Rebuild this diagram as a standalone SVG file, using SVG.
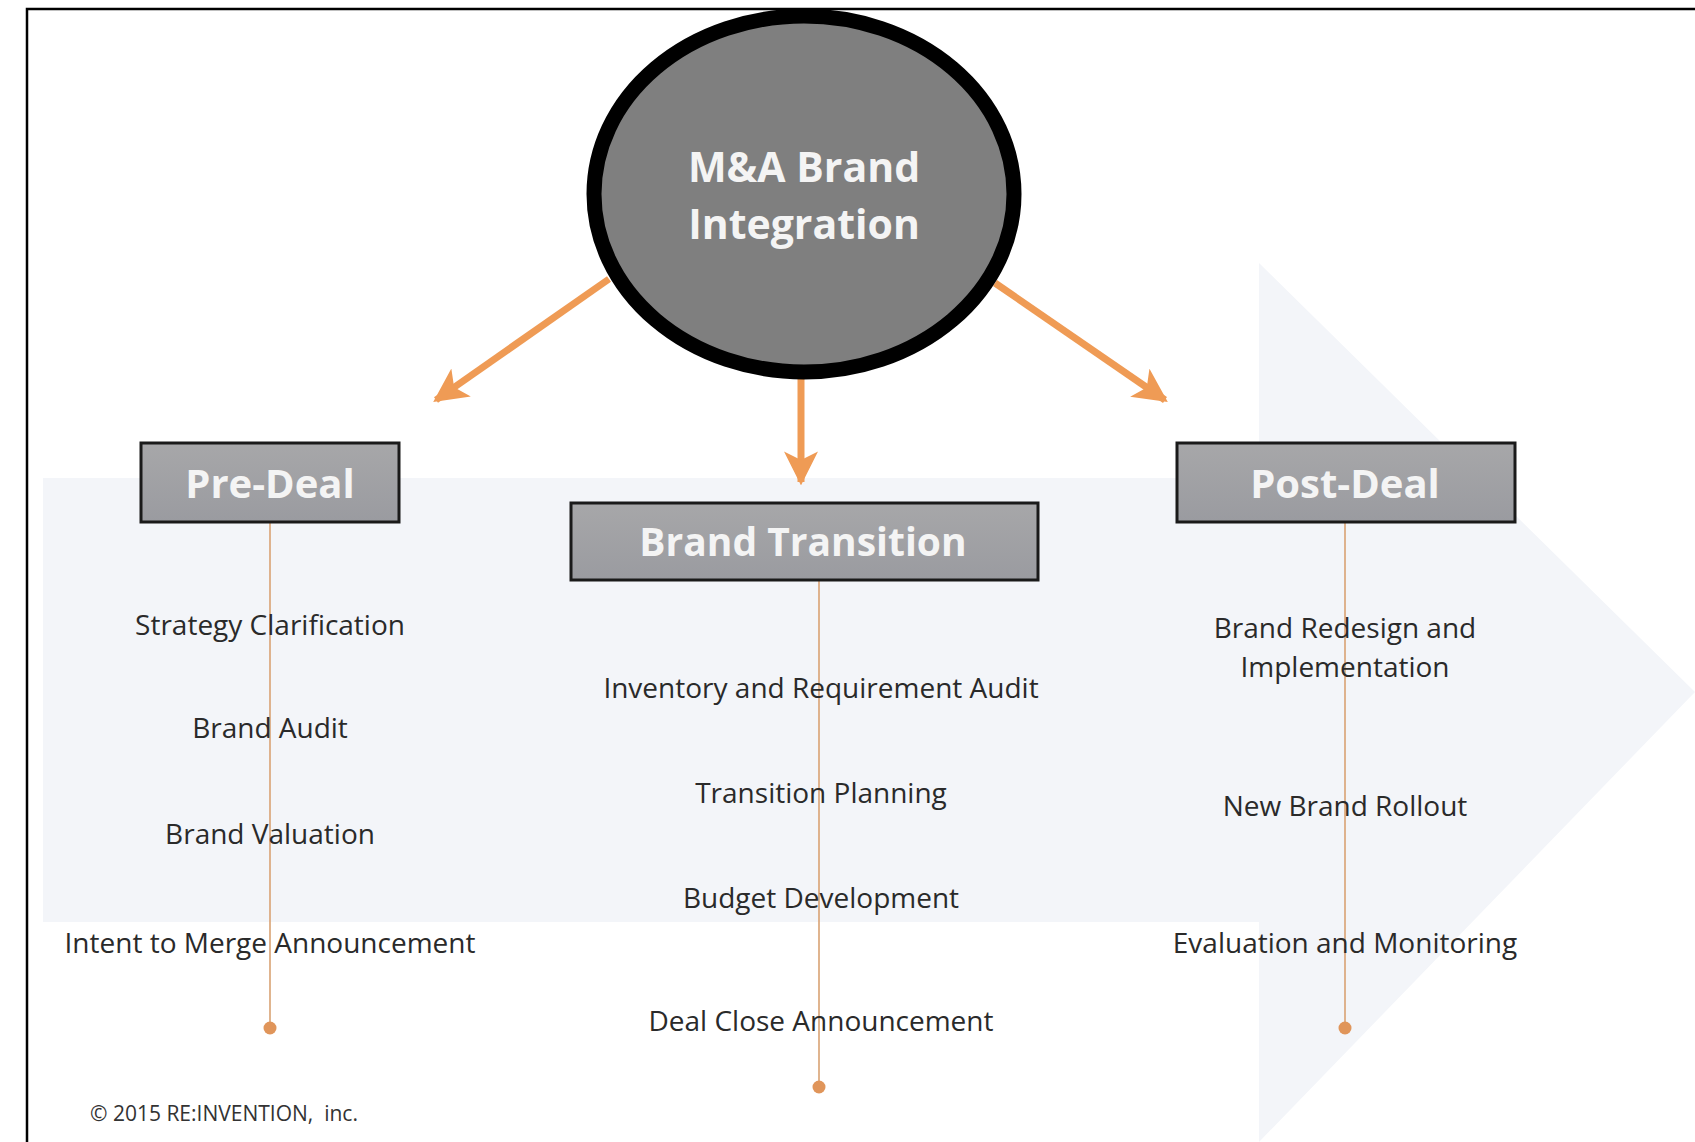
<svg xmlns="http://www.w3.org/2000/svg" width="1695" height="1142" viewBox="0 0 1695 1142">
<style>
.box{fill:url(#boxg);stroke:#1a1a1a;stroke-width:3}
.hdr{font-family:"Open Sans","Liberation Sans",sans-serif;font-weight:bold;fill:#f4f4f4;text-anchor:middle}
.item{font-family:"Open Sans","Liberation Sans",sans-serif;font-size:28px;fill:#2a2a2a;text-anchor:middle}
.vline{stroke:#d9a273;stroke-width:1.6;fill:none}
.dot{fill:#e0955a}
.conn{stroke:#ef9b55;stroke-width:7;fill:none}
.copy{font-family:"Open Sans","Liberation Sans",sans-serif;font-size:21px;fill:#333;white-space:pre}
</style>
<defs>
<linearGradient id="boxg" x1="0" y1="0" x2="0" y2="1">
<stop offset="0" stop-color="#a7a7a9"/>
<stop offset="1" stop-color="#9a9ba0"/>
</linearGradient>
<marker id="ah" viewBox="0 0 10 10" refX="9" refY="5" markerWidth="34" markerHeight="34" markerUnits="userSpaceOnUse" orient="auto">
<path d="M0,0 L10,5 L0,10 L2.5,5 z" fill="#ef9b55"/>
</marker>
</defs>
<rect x="0" y="0" width="1695" height="1142" fill="#ffffff"/>
<g id="background-arrow">
<polygon points="43,478 1259,478 1259,263 1695,692 1259,1142 1259,922 43,922" fill="#f3f5f9"/>
</g>
<g id="frame">
<path d="M27,1142 L27,9 L1695,9" stroke="#000" stroke-width="2.5" fill="none"/>
</g>
<g id="connectors">
<line class="conn" x1="609" y1="279" x2="436" y2="400" marker-end="url(#ah)"/>
<line class="conn" x1="801" y1="376" x2="801" y2="482" marker-end="url(#ah)"/>
<line class="conn" x1="995" y1="283" x2="1165" y2="400" marker-end="url(#ah)"/>
<line class="vline" x1="270" y1="522" x2="270" y2="1028"/>
<circle class="dot" cx="270" cy="1028" r="6.5"/>
<line class="vline" x1="819" y1="580" x2="819" y2="1087"/>
<circle class="dot" cx="819" cy="1087" r="6.5"/>
<line class="vline" x1="1345" y1="522" x2="1345" y2="1028"/>
<circle class="dot" cx="1345" cy="1028" r="6.5"/>
</g>
<g id="hub">
<ellipse cx="804" cy="194" rx="210" ry="178" fill="#7f7f7f" stroke="#000" stroke-width="15"/>
<text class="hdr" x="804" y="182" font-size="41">M&amp;A Brand</text>
<text class="hdr" x="804" y="239" font-size="41">Integration</text>
</g>
<g id="pre-deal">
<rect class="box" x="141" y="443" width="258" height="79"/>
<text class="hdr" x="270" y="498" font-size="40">Pre-Deal</text>
</g>
<g id="brand-transition">
<rect class="box" x="571" y="503" width="467" height="77"/>
<text class="hdr" x="803" y="556" font-size="39">Brand Transition</text>
</g>
<g id="post-deal">
<rect class="box" x="1177" y="443" width="338" height="79"/>
<text class="hdr" x="1345" y="498" font-size="40">Post-Deal</text>
</g>
<g id="pre-deal-items">
<text class="item" x="270" y="635">Strategy Clarification</text>
<text class="item" x="270" y="738">Brand Audit</text>
<text class="item" x="270" y="844">Brand Valuation</text>
<text class="item" x="270" y="953">Intent to Merge Announcement</text>
</g>
<g id="transition-items">
<text class="item" x="821" y="698">Inventory and Requirement Audit</text>
<text class="item" x="821" y="803">Transition Planning</text>
<text class="item" x="821" y="908">Budget Development</text>
<text class="item" x="821" y="1031">Deal Close Announcement</text>
</g>
<g id="post-deal-items">
<text class="item" x="1345" y="638">Brand Redesign and</text>
<text class="item" x="1345" y="677">Implementation</text>
<text class="item" x="1345" y="816">New Brand Rollout</text>
<text class="item" x="1345" y="953">Evaluation and Monitoring</text>
</g>
<text class="copy" x="90" y="1121" xml:space="preserve">© 2015 RE:INVENTION,  inc.</text>
</svg>
